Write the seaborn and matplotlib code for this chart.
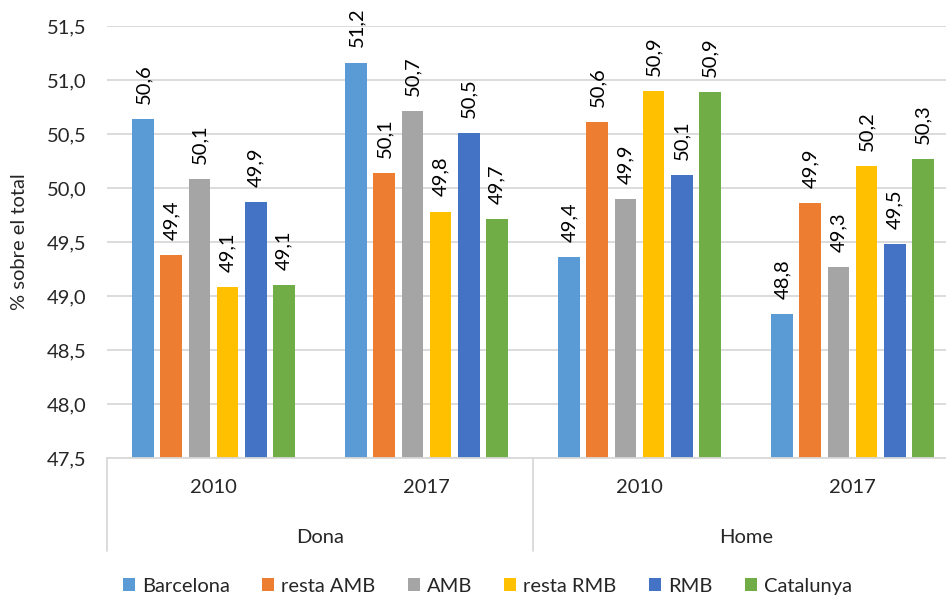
import pandas as pd
import matplotlib.pyplot as plt
import seaborn as sns
from matplotlib.ticker import FuncFormatter

# Dades (percentatge sobre el total)
sexes = ['Dona', 'Dona', 'Home', 'Home']
anys = ['2010', '2017', '2010', '2017']
series = ['Barcelona', 'resta AMB', 'AMB', 'resta RMB', 'RMB', 'Catalunya']

barcelona = [50.64, 51.16, 49.36, 48.83]
resta_amb = [49.38, 50.14, 50.61, 49.86]
amb = [50.08, 50.71, 49.90, 49.27]
resta_rmb = [49.08, 49.78, 50.90, 50.20]
rmb = [49.87, 50.51, 50.12, 49.48]
catalunya = [49.10, 49.71, 50.89, 50.27]

colors = ['#5B9BD5', '#ED7D31', '#A5A5A5', '#FFC000', '#4472C4', '#70AD47']

sns.set_theme(style='white')
plt.rcParams['font.family'] = ['Lato', 'DejaVu Sans']

valors = [barcelona, resta_amb, amb, resta_rmb, rmb, catalunya]
cats = [f'{s} {a}' for s, a in zip(sexes, anys)]
rows = []
for nom, vals in zip(series, valors):
    for c, v in zip(cats, vals):
        rows.append({'cat': c, 'serie': nom, 'valor': v})
df = pd.DataFrame(rows)

fs = 14.5
txt = '#262626'

fig = plt.figure(figsize=(9.46, 5.98), dpi=100)
ax = fig.add_axes([107 / 946, 140 / 598, 852 / 946, 432 / 598])

sns.barplot(data=df, x='cat', y='valor', hue='serie', order=cats, hue_order=series,
            palette=colors, width=0.79, gap=0.22, errorbar=None, ax=ax,
            linewidth=0, saturation=1)

ax.set_ylim(47.5, 51.5)
ax.set_xlim(-0.5, 3.5)
ax.set_yticks([47.5 + 0.5 * i for i in range(9)])
ax.yaxis.set_major_formatter(FuncFormatter(lambda v, p: f'{v:.1f}'.replace('.', ',')))
ax.yaxis.grid(True, color='#d9d9d9', lw=1.3)
ax.set_axisbelow(True)

for s in ['left', 'right', 'top']:
    ax.spines[s].set_visible(False)
ax.spines['bottom'].set_color('#d9d9d9')
ax.spines['bottom'].set_linewidth(1.3)

ax.tick_params(axis='y', length=0, pad=15, labelsize=fs, labelcolor=txt)
ax.tick_params(axis='x', length=0, pad=15, labelsize=fs, labelcolor=txt)
ax.set_xticks(range(4))
ax.set_xticklabels(anys)
ax.set_xlabel('')
ax.set_ylabel('% sobre el total', fontsize=fs, color=txt)
ax.yaxis.set_label_coords(-0.093, 0.5)

# etiquetes de valor
for cont, vals in zip(ax.containers, valors):
    ax.bar_label(cont, labels=[f'{v:.1f}'.replace('.', ',') for v in vals],
                 rotation=90, padding=11, fontsize=fs, color='black')

# separadors i grups
tr = ax.get_xaxis_transform()
for x in [-0.5, 1.5, 3.5]:
    ax.plot([x, x], [0, -0.215], transform=tr, clip_on=False, color='#d9d9d9', lw=1.3)
for x, g in [(0.5, 'Dona'), (2.5, 'Home')]:
    ax.text(x, -0.183, g, transform=tr, ha='center', va='center', fontsize=fs, color=txt)

handles, labels = ax.get_legend_handles_labels()
ax.get_legend().remove()
fig.legend(handles, labels, loc='center', bbox_to_anchor=(0.515, 0.02), ncol=6,
           frameon=False, fontsize=fs, handlelength=0.6, handleheight=0.6,
           handletextpad=0.35, columnspacing=1.6, labelcolor=txt)

fig.savefig('out.png', dpi=100)
